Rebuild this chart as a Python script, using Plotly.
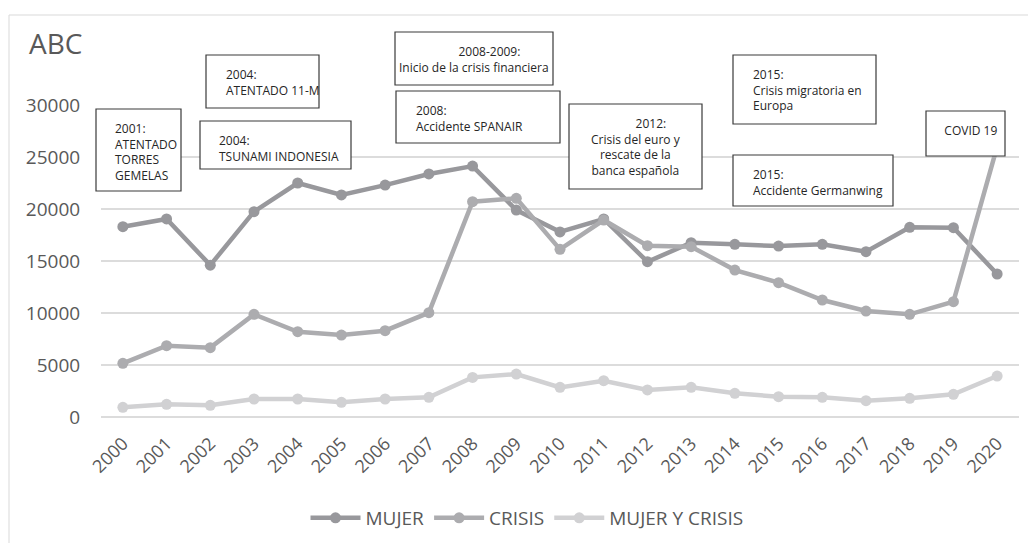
import plotly.graph_objects as go

years = [str(y) for y in range(2000, 2021)]
mujer = [18300, 19040, 14600, 19740, 22500, 21350, 22300, 23370, 24130, 19900,
         17800, 19040, 14930, 16760, 16600, 16440, 16600, 15900, 18240, 18200, 13750]
crisis = [5160, 6860, 6670, 9870, 8200, 7880, 8300, 10030, 20700, 21030,
          16120, 18940, 16470, 16380, 14130, 12920, 11250, 10190, 9870, 11090, 26000]
mujer_crisis = [930, 1220, 1120, 1730, 1730, 1410, 1730, 1890, 3810, 4130,
                2850, 3490, 2600, 2850, 2280, 1950, 1890, 1570, 1800, 2180, 3940]
series_names = ["MUJER", "CRISIS", "MUJER Y CRISIS"]
y_ticks = [0, 5000, 10000, 15000, 20000, 25000, 30000]

NB = "\u00a0"
# (text, box left, box top, box right, box bottom, text left, text top, align) in screen px
notes = [
    ("2001:<br>ATENTADO<br>TORRES<br>GEMELAS", 96, 109, 181, 191, 113, 118, "left"),
    ("2004:<br>ATENTADO 11-M", 206, 55, 319, 108, 224, 64, "left"),
    ("2004:<br>TSUNAMI INDONESIA", 200, 121, 351, 169, 217, 130, "left"),
    (NB * 10 + "2008-2009:<br>Inicio de la crisis financiera", 395, 32, 553, 85, None, 41, "center"),
    ("2008:<br>Accidente SPANAIR", 396, 91, 560, 143, 414, 100, "left"),
    (NB * 10 + "2012:<br>Crisis del euro y<br>rescate de la<br>banca española", 569, 104, 702, 189, None, 113, "center"),
    ("2015:<br>Crisis migratoria en<br>Europa", 733, 55, 876, 124, 751, 64, "left"),
    ("2015:<br>Accidente Germanwing", 733, 155, 893, 206, 751, 164, "left"),
    (NB * 3 + "COVID 19", 926, 111, 1005, 156, None, 120, "center"),
]

OFF = 8  # page offset of the figure
W, H = 1036 - OFF, 543 - OFF
L, R, T, B = 101 - OFF, 1019 - OFF, 105 - OFF, 417 - OFF
def px(x):
    return (x - OFF - L) / (R - L)
def py(y):
    return (B - (y - OFF)) / (B - T)

colors = ["#98989c", "#acacaf", "#d1d1d3"]
fig = go.Figure()
for name, vals, c in zip(series_names, [mujer, crisis, mujer_crisis], colors):
    fig.add_trace(go.Scatter(
        x=years, y=vals, name=name, mode="lines+markers",
        line=dict(color=c, width=4.5),
        marker=dict(color=c, size=11),
        cliponaxis=False,
    ))

shapes = [dict(type="rect", xref="paper", yref="paper",
               x0=px(9), y0=py(15), x1=px(1080), y1=py(600),
               line=dict(color="#d9d9d9", width=1), fillcolor="rgba(0,0,0,0)", layer="below")]
annotations = [dict(text="ABC", xref="paper", yref="paper", x=px(27), y=py(22),
                    xanchor="left", yanchor="top", showarrow=False,
                    font=dict(family="Open Sans", size=28, color="#595959"))]
for text, x0, y0, x1, y1, tx, ty, align in notes:
    shapes.append(dict(type="rect", xref="paper", yref="paper",
                       x0=px(x0), y0=py(y0), x1=px(x1), y1=py(y1),
                       line=dict(color="#3a3a3a", width=1.2), fillcolor="white", layer="above"))
    if align == "left":
        annotations.append(dict(text=text, xref="paper", yref="paper", x=px(tx), y=py(ty),
                                xanchor="left", yanchor="top", align="left", showarrow=False,
                                font=dict(family="Open Sans", size=12, color="#262626")))
    else:
        annotations.append(dict(text=text, xref="paper", yref="paper", x=px((x0 + x1) / 2), y=py(ty),
                                xanchor="center", yanchor="top", align="center", showarrow=False,
                                font=dict(family="Open Sans", size=12, color="#262626")))

fig.update_layout(
    width=W, height=H,
    margin=dict(l=L, r=W - R, t=T, b=H - B, autoexpand=False),
    plot_bgcolor="white", paper_bgcolor="white",
    font=dict(family="Open Sans", color="#595959"),
    shapes=shapes, annotations=annotations,
    showlegend=True,
    legend=dict(orientation="h", xref="container", x=(527 - OFF) / W, xanchor="center",
                yref="container", y=1 - (518 - OFF) / H, yanchor="middle",
                font=dict(size=19, color="#595959"), itemwidth=50,
                bgcolor="rgba(0,0,0,0)"),
)
fig.update_xaxes(type="category", range=[-0.5, 20.5], tickangle=-45,
                 tickfont=dict(size=18, color="#595959"), showgrid=False,
                 showline=False, ticks="outside", ticklen=8, tickcolor="rgba(0,0,0,0)")
fig.update_yaxes(range=[0, 30000], tickvals=y_ticks, ticktext=[str(v) for v in y_ticks],
                 tickfont=dict(size=19, color="#595959"), showgrid=True,
                 gridcolor="#dcdcdc", gridwidth=1.5, zeroline=True, zerolinecolor="#dcdcdc",
                 zerolinewidth=1.5, showline=False, ticks="outside", ticklen=16,
                 tickcolor="rgba(0,0,0,0)")

fig.write_html("out.html")
